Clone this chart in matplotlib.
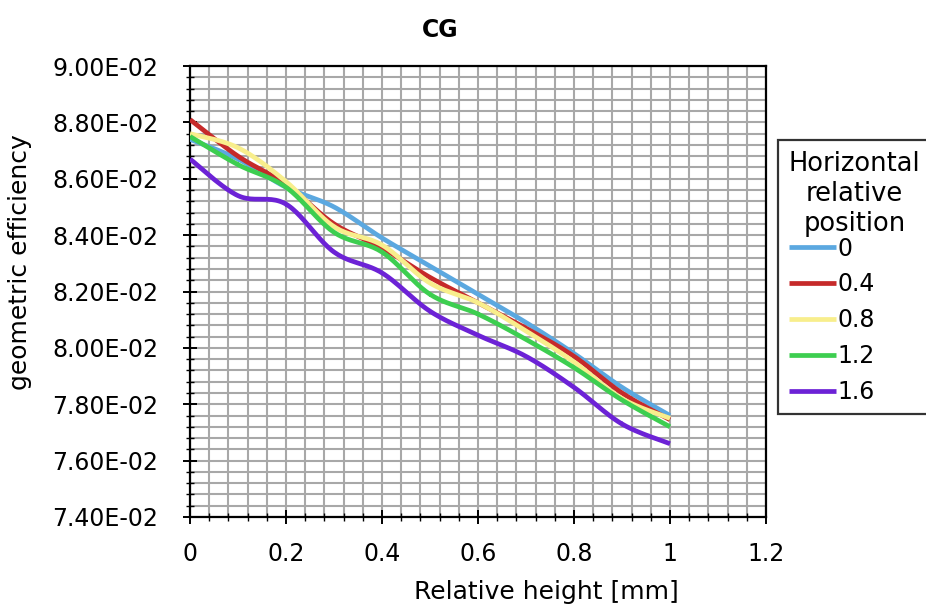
import matplotlib
matplotlib.use("Agg")
import matplotlib.pyplot as plt
import numpy as np
from matplotlib.ticker import MultipleLocator, FuncFormatter

# relative height [mm]
heights = [0.0, 0.1, 0.2, 0.3, 0.4, 0.5, 0.6, 0.7, 0.8, 0.9, 1.0]

# geometric efficiency, one list per horizontal relative position
eff_0 = [0.0874, 0.0867, 0.0857, 0.0850, 0.0839, 0.0829, 0.0819, 0.0809, 0.0798, 0.0786, 0.0776]
eff_04 = [0.0881, 0.0868, 0.0858, 0.0844, 0.08355, 0.0825, 0.0816, 0.0807, 0.0797, 0.0784, 0.07745]
eff_08 = [0.0876, 0.0871, 0.0859, 0.0843, 0.08365, 0.0823, 0.0816, 0.0806, 0.0795, 0.0782, 0.0775]
eff_12 = [0.0875, 0.0865, 0.0857, 0.0841, 0.0834, 0.0819, 0.0812, 0.0803, 0.0793, 0.07815, 0.0772]
eff_16 = [0.0867, 0.0854, 0.0851, 0.0834, 0.08266, 0.0813, 0.08045, 0.0797, 0.0786, 0.0773, 0.0766]

labels = ['0', '0.4', '0.8', '1.2', '1.6']
colours = ['#5ba8e0', '#c62a2a', '#f8ee8c', '#3dce50', '#6c22d6']


def smooth(x, y, n=24):
    """catmull-rom curve through the points, like a smoothed excel line"""
    x = np.asarray(x, float)
    y = np.asarray(y, float)
    px = np.concatenate([[x[0]], x, [x[-1]]])
    py = np.concatenate([[y[0]], y, [y[-1]]])
    t = np.linspace(0, 1, n)[:, None]
    xs, ys = [], []
    for i in range(1, len(px) - 2):
        for p, out in ((px, xs), (py, ys)):
            p0, p1, p2, p3 = p[i - 1], p[i], p[i + 1], p[i + 2]
            seg = 0.5 * (2 * p1 + (-p0 + p2) * t + (2 * p0 - 5 * p1 + 4 * p2 - p3) * t ** 2
                         + (-p0 + 3 * p1 - 3 * p2 + p3) * t ** 3)
            out.append(seg.ravel())
    return np.concatenate(xs), np.concatenate(ys)


fig = plt.figure(figsize=(9.26, 6.08), dpi=100)
ax = fig.add_axes([190 / 926, 1 - 517 / 608, 576 / 926, 451 / 608])

for series, lab, col in zip([eff_0, eff_04, eff_08, eff_12, eff_16], labels, colours):
    sx, sy = smooth(heights, series)
    ax.plot(sx, sy, color=col, lw=3.4, label=lab, solid_capstyle='butt', zorder=3)

ax.set_xlim(0, 1.2)
ax.set_ylim(0.074, 0.090)
ax.xaxis.set_major_locator(MultipleLocator(0.2))
ax.xaxis.set_minor_locator(MultipleLocator(0.04))
ax.yaxis.set_major_locator(MultipleLocator(0.002))
ax.yaxis.set_minor_locator(MultipleLocator(0.0004))
ax.xaxis.set_major_formatter(FuncFormatter(lambda v, p: '%g' % round(v, 2)))
ax.yaxis.set_major_formatter(FuncFormatter(lambda v, p: '%.2fE-02' % (v * 100)))

ax.grid(which='both', color='#a8a8a8', lw=1.5, zorder=0)
ax.set_axisbelow(True)
for s in ax.spines.values():
    s.set_linewidth(1.6)
    s.set_color('black')

ax.tick_params(which='major', direction='inout', length=10, width=1.4, labelsize=17)
ax.tick_params(which='minor', direction='inout', length=6, width=1.0)
ax.tick_params(axis='y', pad=18)
ax.tick_params(axis='x', pad=13)

fig.text(440 / 926, 1 - 30 / 608, 'CG', ha='center', va='center', fontsize=17, fontweight='bold')
fig.text(20 / 926, 1 - 262 / 608, 'geometric efficiency', rotation=90, ha='center', va='center', fontsize=18)
fig.text(546 / 926, 1 - 592 / 608, 'Relative height [mm]', ha='center', va='center', fontsize=18)

leg = fig.legend(loc='upper left', bbox_to_anchor=(778 / 926, 1 - 140 / 608),
                 title='Horizontal\nrelative\nposition', fontsize=17, title_fontsize=18.5,
                 frameon=True, fancybox=False, handlelength=2.0, handletextpad=0.05,
                 labelspacing=0.5, borderpad=0.45, borderaxespad=0)
leg.get_frame().set_edgecolor('black')
leg.get_frame().set_linewidth(1.6)
leg._legend_box.align = 'left'
leg._legend_box.sep = 0
leg.get_title().set_multialignment('center')

fig.savefig('out.png', dpi=100)
